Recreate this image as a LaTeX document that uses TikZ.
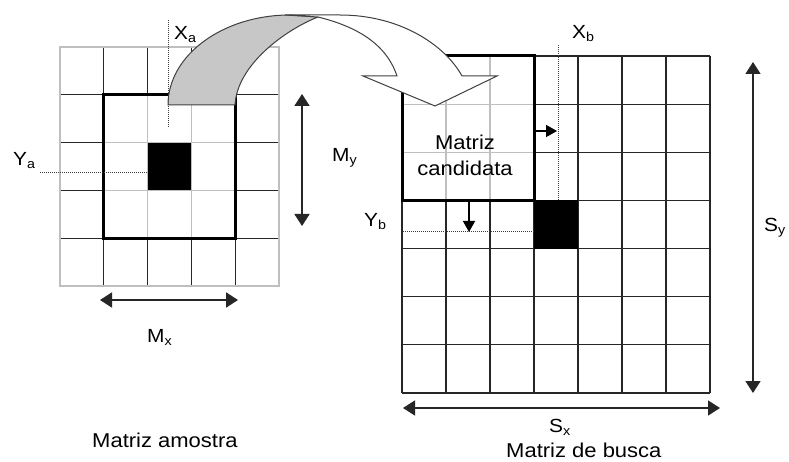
\documentclass[tikz,border=0pt]{standalone}
\usepackage{fontspec}
\setmainfont{Liberation Sans}
\usetikzlibrary{arrows.meta}
\newcommand{\lbl}[2]{\scalebox{1.1}[1]{\fontsize{19}{19}\selectfont #1\raisebox{-3pt}{\fontsize{13}{13}\selectfont #2}}}
\newcommand{\txt}[1]{\scalebox{1.1}[1]{\fontsize{20}{20}\selectfont #1}}
\begin{document}
\begin{tikzpicture}[x=1pt,y=-1pt,
  thingrid/.style={line width=1.2pt, black!85},
  lightgrid/.style={line width=1.2pt, black!25},
  thickbox/.style={line width=3pt, black},
  dimarrow/.style={line width=1.8pt, black!85, {Triangle[length=12pt,width=15pt]}-{Triangle[length=12pt,width=15pt]}},
  smallarrow/.style={line width=1.5pt, -{Triangle[length=11pt,width=12pt]}},
  guide/.style={dash pattern=on 1pt off 1pt, line width=1pt, black!75},
  lab/.style={inner sep=0pt, anchor=base west},
  arrowback/.style={line width=1pt, black!75, fill=black!22},
  arrowfront/.style={line width=1pt, black!75, fill=white}]

\useasboundingbox (0,0) rectangle (789,462);
\fill[white] (0,0) rectangle (789,462);

% ---------- left grid (Matriz amostra)
\foreach \x in {103.8,147.6,191.4,235.2} {
  \draw[thingrid] (\x,47) -- (\x,94.8);
  \draw[thingrid] (\x,238.2) -- (\x,286);}
\foreach \y in {94.8,142.6,190.4,238.2} {
  \draw[thingrid] (60,\y) -- (103.8,\y);
  \draw[thingrid] (235.2,\y) -- (279,\y);}
\foreach \x in {147.6,191.4} \draw[lightgrid] (\x,94.8) -- (\x,238.2);
\foreach \y in {142.6,190.4} \draw[lightgrid] (103.8,\y) -- (235.2,\y);
\draw[lightgrid] (60,47) rectangle (279,286);
\fill (147.6,142.6) rectangle (191.4,190.4);
\draw[thickbox] (103.8,94.8) rectangle (235.2,238.2);

% ---------- right grid (Matriz de busca)
\foreach \i in {0,...,7} {
  \draw[thingrid] ({402+44*\i},56) -- ({402+44*\i},393);
  \draw[thingrid] (402,{56+48.142857*\i}) -- (710,{56+48.142857*\i});}
\fill[white] (402,56) rectangle (534,200.43);
\foreach \x in {446,490} \draw[lightgrid] (\x,56) -- (\x,200.43);
\foreach \y in {104.14,152.29} \draw[lightgrid] (402,\y) -- (534,\y);
\fill (534,200.43) rectangle (578,248.57);
\draw[thickbox] (402,56) rectangle (534,200.43);

% ---------- curved arrow
\draw[arrowback] (168,105) .. controls (168,55.3) and (222.7,15) .. (290,15)
  -- (318,17) .. controls (285,30) and (237,65) .. (235,105) -- cycle;
\draw[arrowfront] (285,15) -- (340,15) .. controls (400,15) and (445,45) .. (462,76)
  -- (497,76) -- (435,106) -- (363,76) -- (397,76)
  .. controls (385,40) and (350,25) .. (318,17) -- cycle;

% ---------- guides
\coordinate (xat) at (168,20);  \coordinate (xab) at (168,127);
\coordinate (yal) at (40,172.5); \coordinate (yar) at (147.6,172.5);
\coordinate (xbt) at (558,45);  \coordinate (xbb) at (558,200.43);
\coordinate (ybl) at (403,232); \coordinate (ybr) at (534,232);
\draw[guide] (xat) -- (xab);
\draw[guide] (yal) -- (yar);
\draw[guide] (xbt) -- (xbb);
\draw[guide] (ybl) -- (ybr);

% small arrows
\coordinate (ra1) at (535.5,131); \coordinate (ra2) at (557,131);
\coordinate (da1) at (469,202);   \coordinate (da2) at (469,232);
\draw[smallarrow] (ra1) -- (ra2);
\draw[smallarrow] (da1) -- (da2);

% dimension arrows
\coordinate (myt) at (302,94);  \coordinate (myb) at (302,226);
\coordinate (mxl) at (100,300); \coordinate (mxr) at (238,300);
\coordinate (sxl) at (403,408); \coordinate (sxr) at (720,408);
\coordinate (syt) at (753,62);  \coordinate (syb) at (753,393);
\draw[dimarrow] (myt) -- (myb);
\draw[dimarrow] (mxl) -- (mxr);
\draw[dimarrow, line width=1.5pt] (sxl) -- (sxr);
\draw[dimarrow, line width=1.5pt] (syt) -- (syb);

% ---------- labels
\node[lab] (xa) at (174,40) {\lbl{X}{a}};
\node[lab] (xb) at (572,39) {\lbl{X}{b}};
\node[lab] (ya) at (13,166) {\lbl{Y}{a}};
\node[lab] (yb) at (364,227) {\lbl{Y}{b}};
\node[lab] (my) at (332,162) {\lbl{M}{y}};
\node[lab] (mx) at (147,342) {\lbl{M}{x}};
\node[lab] (sx) at (549,432) {\lbl{S}{x}};
\node[lab] (sy) at (764,232) {\lbl{S}{y}};

\node[inner sep=0pt, anchor=base] (cand1) at (465,150) {\txt{Matriz}};
\node[inner sep=0pt, anchor=base] (cand2) at (465,176) {\txt{candidata}};
\node[lab] (amostra) at (92,447) {\txt{Matriz amostra}};
\node[lab] (busca) at (506,457) {\txt{Matriz de busca}};
\end{tikzpicture}
\end{document}
